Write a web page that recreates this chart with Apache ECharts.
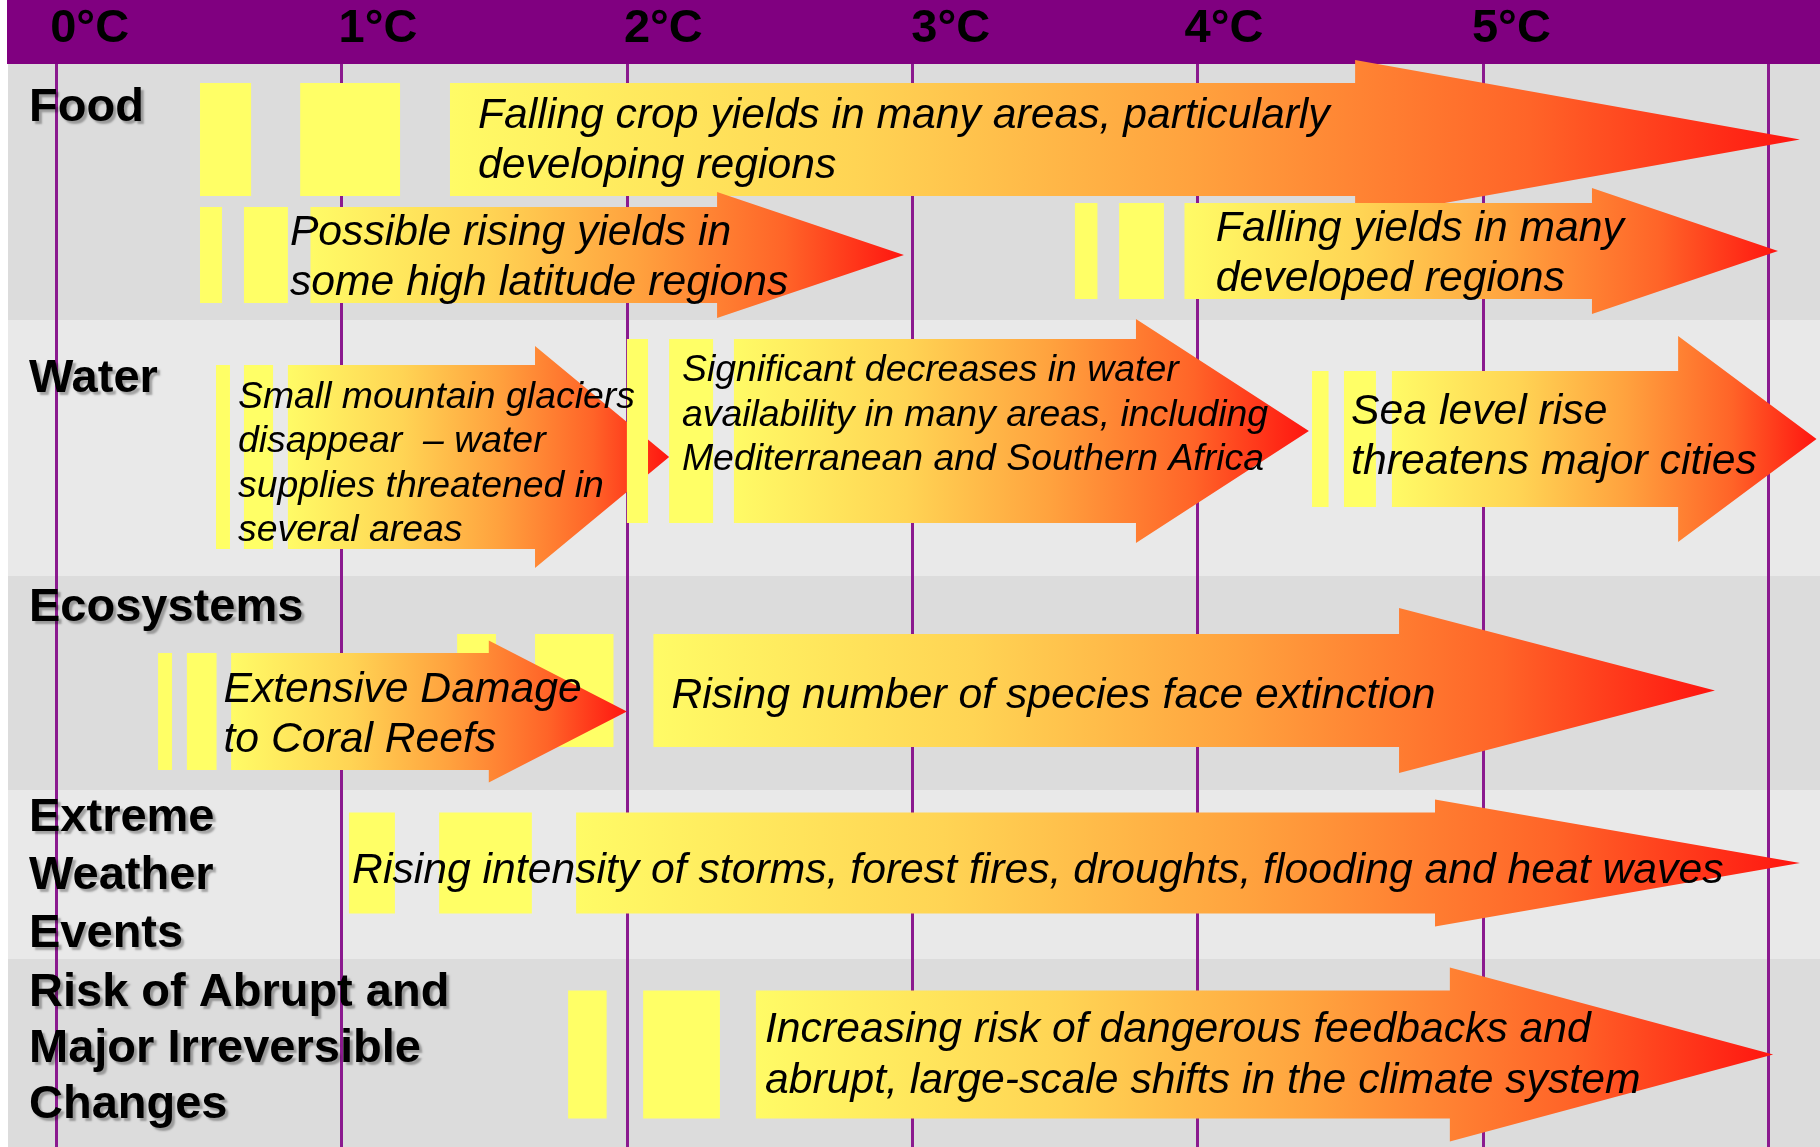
<!DOCTYPE html>
<html><head><meta charset="utf-8">
<script src="https://cdn.jsdelivr.net/npm/echarts@6/dist/echarts.min.js"></script>
<style>html,body{margin:0;padding:0;background:#fff}#c{width:1820px;height:1147px}</style>
</head><body><div id="c"></div><script>
// ---------- DATA ----------
const tickLabels = ['0°C','1°C','2°C','3°C','4°C','5°C',''];
const rowNames = ['Food','Water','Ecosystems','Extreme\nWeather\nEvents','Risk of Abrupt and\nMajor Irreversible\nChanges'];
const impactText = [
  'Falling crop yields in many areas, particularly\ndeveloping regions',
  'Possible rising yields in\nsome high latitude regions',
  'Falling yields in many\ndeveloped regions',
  'Small mountain glaciers\ndisappear  \u2013 water\nsupplies threatened in\nseveral areas',
  'Significant decreases in water\navailability in many areas, including\nMediterranean and Southern Africa',
  'Sea level rise\nthreatens major cities',
  'Rising number of species face extinction',
  'Extensive Damage\nto Coral Reefs',
  'Rising intensity of storms, forest fires, droughts, flooding and heat waves',
  'Increasing risk of dangerous feedbacks and\nabrupt, large-scale shifts in the climate system'
];
const impactRow = [0,0,0,1,1,1,2,2,3,4];
// temperatures (°C)
const leadBar1 = [[0.504,0.683],[0.504,0.581],[3.570,3.649],[0.560,0.609],[2.000,2.074],[4.401,4.459],[1.405,1.541],[0.357,0.406],[1.026,1.187],[1.794,1.929]];
const leadBar2 = [[0.855,1.205],[0.658,0.812],[3.725,3.882],[0.658,0.760],[2.148,2.302],[4.513,4.625],[1.678,1.953],[0.458,0.562],[1.342,1.667],[2.057,2.326]];
const bodyStart = [1.380,0.891,3.954,0.812,2.375,4.681,2.093,0.613,1.822,2.452];
const headStart = [4.552,2.316,5.382,1.678,3.784,5.684,4.706,1.516,4.832,4.884];
const tipEnd    = [6.111,2.971,6.034,2.148,4.390,6.169,5.813,2.000,6.111,6.017];

// ---------- LAYOUT (positions / sizes, kept apart from data) ----------
const rowEdges = [0,256,512,726,895,1083];
const rowFill = ['#DCDCDC','#E9E9E9'];
const rowLabelTop = [15.5,30.5,3.5,-0.5,6.5];
const rowLabelLH = [58,58,58,58,56];
const tickShift = [-6,-3,-3,-1,-13,-11,0];
const arrowLayout = [
  {cy:75.5, body:56.5, head:79.5, tx:1.478, ty:77.5, fs:42.7, lh:50},
  {cy:191,  body:48,   head:63,   tx:0.819, ty:194.5, fs:42.7, lh:50},
  {cy:187,  body:48,   head:63,   tx:4.064, ty:190.5, fs:42.7, lh:50},
  {cy:393,  body:92,   head:111,  tx:0.637, ty:400, fs:37.4, lh:44.5},
  {cy:367,  body:92,   head:112,  tx:2.193, ty:351.5, fs:37.4, lh:44.5},
  {cy:375,  body:68,   head:103,  tx:4.538, ty:373, fs:42.7, lh:50},
  {cy:626.5,body:56.5, head:82.5, tx:2.156, ty:632.5, fs:42.7, lh:50},
  {cy:647.5,body:58.5, head:71,   tx:0.586, ty:651.5, fs:42.7, lh:50},
  {cy:799,  body:50.5, head:63.5, tx:1.037, ty:807, fs:42.7, lh:50},
  {cy:990.5,body:64,   head:87,   tx:2.484, ty:992, fs:42.7, lh:51}
];
const FONT = "'Liberation Sans', Arial, Helvetica, sans-serif";
const gradient = {type:'linear', x:0, y:0, x2:1, y2:0, colorStops:[
  {offset:0, color:'#FFFB66'},{offset:0.3, color:'#FFD454'},{offset:0.55, color:'#FFA23E'},
  {offset:0.8, color:'#FF6428'},{offset:1, color:'#FF1510'}]};

const arrowData = impactText.map((t,i)=>[leadBar1[i][0],leadBar1[i][1],leadBar2[i][0],leadBar2[i][1],bodyStart[i],headStart[i],tipEnd[i],impactRow[i]]);

const tickRich = {};
tickShift.forEach((s,k)=>{ tickRich['t'+k] = {padding:[0,0,0,s], fontSize:47, fontWeight:'bold', fontFamily:FONT, color:'#000'}; });

const chart = echarts.init(document.getElementById('c'), null, {renderer:'canvas'});
chart.setOption({
  animation:false,
  grid:{left:56.2, right:51.7, top:64, bottom:0},
  xAxis:{type:'value', position:'top', min:0, max:6, interval:1,
    axisLine:{show:false}, axisTick:{show:false},
    splitLine:{show:true, lineStyle:{color:'#8B1A8F', width:3}},
    axisLabel:{show:true, margin:35, align:'left', verticalAlign:'middle', color:'#000',
      fontSize:47, fontWeight:'bold', fontFamily:FONT, rich:tickRich,
      formatter:v=>{ const k = Math.round(v); return tickLabels[k] ? '{t'+k+'|'+tickLabels[k]+'}' : ''; }}},
  yAxis:{type:'value', inverse:true, min:0, max:1083, show:false},
  graphic:[{type:'rect', z:-5, shape:{x:7,y:0,width:1813,height:64}, style:{fill:'#800080'}}],
  series:[
    { type:'custom', z:-1, silent:true,
      data: rowNames.map((n,i)=>[0,rowEdges[i]]),
      renderItem:(params, api)=>{
        const i = params.dataIndex;
        const y0 = api.coord([0,rowEdges[i]])[1], y1 = api.coord([0,rowEdges[i+1]])[1];
        return {type:'rect', shape:{x:8, y:y0, width:api.getWidth()-8, height:y1-y0}, style:{fill:rowFill[i%2]}};
      }},
    { type:'custom', z:2, silent:true, data: arrowData,
      renderItem:(params, api)=>{
        const i = params.dataIndex, L = arrowLayout[i];
        const X = t=>api.coord([t,0])[0];
        const Y = v=>api.coord([0,v])[1];
        const top = Y(L.cy-L.body), bot = Y(L.cy+L.body), mid = Y(L.cy);
        const htop = Y(L.cy-L.head), hbot = Y(L.cy+L.head);
        const b1a = X(api.value(0)), b1b = X(api.value(1)), b2a = X(api.value(2)), b2b = X(api.value(3));
        const bs = X(api.value(4)), hs = X(api.value(5)), tp = X(api.value(6));
        return {type:'group', children:[
          {type:'rect', shape:{x:b1a, y:top, width:b1b-b1a, height:bot-top}, style:{fill:'#FFFF66'}},
          {type:'rect', shape:{x:b2a, y:top, width:b2b-b2a, height:bot-top}, style:{fill:'#FFFF66'}},
          {type:'polygon', shape:{points:[[bs,top],[hs,top],[hs,htop],[tp,mid],[hs,hbot],[hs,bot],[bs,bot]]}, style:{fill:gradient}}
        ]};
      }},
    { type:'custom', z:3, silent:true, data: impactText.map((t,i)=>[bodyStart[i], impactRow[i]]),
      renderItem:(params, api)=>{
        const i = params.dataIndex, L = arrowLayout[i];
        return {type:'text', x: api.coord([L.tx,0])[0], y: api.coord([0,L.ty])[1],
          style:{text:impactText[i], fill:'#000', fontSize:L.fs, fontStyle:'italic', fontFamily:FONT,
            lineHeight:L.lh, align:'left', verticalAlign:'middle'}};
      }},
    { type:'custom', z:4, silent:true, data: rowNames.map((n,i)=>[0,rowEdges[i]]),
      renderItem:(params, api)=>{
        const i = params.dataIndex;
        return {type:'text', x:29, y: api.coord([0,rowEdges[i]+rowLabelTop[i]])[1],
          style:{text:rowNames[i], fill:'#000', fontSize:47, fontWeight:'bold', fontFamily:FONT,
            lineHeight:rowLabelLH[i], align:'left', verticalAlign:'top',
            textShadowColor:'rgba(0,0,0,0.3)', textShadowOffsetX:3, textShadowOffsetY:3, textShadowBlur:2}};
      }}
  ]
});
</script></body></html>
